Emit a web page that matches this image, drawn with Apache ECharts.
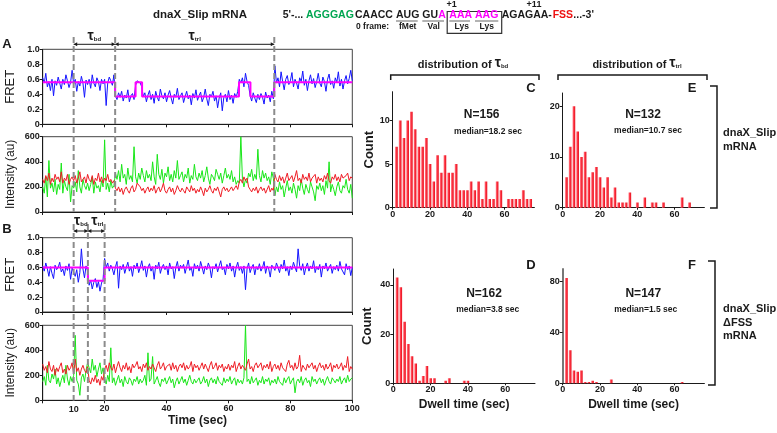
<!DOCTYPE html>
<html lang="en">
<head>
<meta charset="UTF-8">
<title>dnaX_Slip smFRET</title>
<script src="https://cdn.jsdelivr.net/npm/echarts@6/dist/echarts.min.js"></script>
<style>
  html, body { margin: 0; padding: 0; background: #fff; }
  #main { width: 777px; height: 433px; }
</style>
</head>
<body>
<div id="main"></div>
<script type="text/javascript">
// traces are sampled every 0.5 s, 0 .. 100 s
var frameTime = 0.5;

var fretA = [
  0.62,0.55,0.68,0.5,0.57,0.45,0.6,0.38,0.58,0.52,
  0.63,0.55,0.47,0.6,0.53,0.66,0.58,0.49,0.56,0.72,
  0.54,0.6,0.44,0.57,0.51,0.64,0.55,0.36,0.59,0.53,
  0.6,0.48,0.66,0.55,0.5,0.62,0.57,0.45,0.6,0.54,
  0.6,0.25,0.55,0.63,0.58,0.52,0.66,0.38,0.33,0.42,
  0.36,0.44,0.31,0.39,0.35,0.46,0.3,0.38,0.41,0.33,
  0.52,0.58,0.6,0.55,0.5,0.37,0.42,0.3,0.39,0.45,
  0.33,0.4,0.28,0.44,0.36,0.31,0.47,0.38,0.34,0.42,
  0.3,0.39,0.45,0.35,0.27,0.4,0.36,0.48,0.33,0.38,
  0.42,0.29,0.37,0.44,0.34,0.39,0.26,0.41,0.35,0.46,
  0.32,0.38,0.43,0.3,0.36,0.47,0.34,0.25,0.4,0.37,
  0.44,0.31,0.38,0.22,0.35,0.42,0.18,0.36,0.4,0.3,
  0.45,0.33,0.39,0.28,0.41,0.36,0.44,0.6,0.55,0.62,
  0.5,0.68,0.57,0.52,0.38,0.31,0.42,0.35,0.29,0.4,
  0.33,0.41,0.36,0.27,0.43,0.35,0.39,0.3,0.44,0.34,
  0.78,0.55,0.62,0.5,0.7,0.57,0.46,0.6,0.65,0.53,
  0.58,0.69,0.5,0.6,0.55,0.47,0.62,0.57,0.71,0.52,
  0.6,0.45,0.58,0.66,0.54,0.61,0.49,0.57,0.68,0.55,
  0.5,0.63,0.57,0.44,0.6,0.67,0.53,0.58,0.48,0.62,
  0.56,0.7,0.51,0.6,0.47,0.58,0.65,0.54,0.61,0.72,
  0.58
];
var greenA = [
  200,150,280,120,410,190,230,160,260,140,
  220,180,390,150,250,200,170,300,80,210,
  190,240,160,330,200,150,260,210,180,230,
  170,220,280,150,240,190,210,160,250,200,
  575,180,230,160,250,190,210,310,260,330,
  240,380,270,300,220,350,260,290,240,520,
  280,230,310,260,350,290,240,330,270,300,
  250,400,280,220,460,300,260,340,230,310,
  280,360,250,300,240,330,270,410,260,290,
  320,240,300,270,350,230,290,260,380,280,
  250,310,270,330,240,290,360,270,220,300,
  280,250,340,300,260,310,230,290,350,270,
  300,260,330,240,280,220,250,230,600,270,
  200,260,230,310,280,340,250,300,260,500,
  290,240,330,270,310,250,280,220,320,270,
  130,200,160,240,180,210,120,190,250,170,
  200,150,230,180,110,210,170,260,190,140,
  220,180,150,240,200,160,90,210,180,230,
  170,210,140,250,190,400,160,220,180,130,
  200,240,170,150,210,190,260,180,150,220,
  110
];
var redA = [
  260,230,290,250,310,220,270,240,300,260,
  280,240,320,230,270,250,300,220,260,280,
  250,290,230,270,320,240,260,280,230,300,
  260,240,290,220,270,250,310,240,280,230,
  270,250,300,240,260,230,250,190,170,200,
  160,190,140,180,200,170,150,190,210,160,
  180,230,220,200,170,190,150,180,200,160,
  190,170,210,150,180,200,160,190,230,170,
  150,180,200,160,190,140,170,210,180,160,
  190,170,150,200,180,160,210,170,190,150,
  180,160,200,170,130,190,160,180,210,170,
  150,190,170,200,160,120,180,200,170,190,
  160,180,200,170,190,210,180,240,260,230,
  280,250,270,200,180,160,190,170,200,150,
  180,200,170,190,150,180,210,160,190,170,
  300,260,240,290,250,280,230,270,310,250,
  260,290,240,280,330,250,270,230,300,260,
  280,250,310,240,270,260,300,230,280,250,
  270,240,290,260,310,250,230,280,260,300,
  250,280,240,300,270,260,290,310,250,280,
  270
];
var fretB = [
  0.62,0.55,0.66,0.58,0.48,0.61,0.52,0.45,0.63,0.57,
  0.6,0.67,0.54,0.58,0.49,0.62,0.56,0.65,0.44,0.59,
  0.61,0.48,0.57,0.4,0.53,0.85,0.58,0.46,0.62,0.55,
  0.36,0.43,0.31,0.4,0.45,0.33,0.41,0.28,0.39,0.44,
  0.72,0.6,0.66,0.55,0.63,0.58,0.5,0.61,0.68,0.32,
  0.62,0.57,0.64,0.52,0.6,0.67,0.55,0.61,0.48,0.63,
  0.58,0.66,0.53,0.6,0.69,0.56,0.62,0.47,0.6,0.65,
  0.55,0.61,0.44,0.63,0.58,0.67,0.52,0.6,0.64,0.57,
  0.62,0.5,0.66,0.58,0.61,0.45,0.6,0.68,0.55,0.63,
  0.59,0.64,0.52,0.61,0.7,0.56,0.6,0.48,0.65,0.58,
  0.63,0.55,0.68,0.6,0.51,0.62,0.57,0.66,0.6,0.46,
  0.61,0.58,0.65,0.54,0.62,0.69,0.57,0.6,0.5,0.64,
  0.58,0.66,0.55,0.62,0.47,0.6,0.67,0.56,0.61,0.52,
  0.62,0.3,0.58,0.66,0.53,0.6,0.64,0.5,0.61,0.57,
  0.65,0.55,0.6,0.68,0.52,0.62,0.58,0.47,0.63,0.6,
  0.56,0.66,0.6,0.53,0.64,0.58,0.7,0.55,0.61,0.49,
  0.62,0.57,0.67,0.6,0.54,0.85,0.62,0.56,0.65,0.5,
  0.6,0.66,0.55,0.62,0.58,0.69,0.53,0.61,0.57,0.64,
  0.47,0.62,0.58,0.66,0.55,0.6,0.64,0.52,0.61,0.57,
  0.63,0.55,0.68,0.58,0.6,0.5,0.65,0.57,0.62,0.49,
  0.6
];
var greenB = [
  150,190,120,280,160,140,210,170,250,130,
  180,110,160,200,140,280,170,120,190,150,
  200,520,160,130,40,180,210,150,240,300,
  260,220,330,240,280,190,250,300,210,260,
  170,130,200,150,420,140,180,120,160,200,
  140,170,110,190,150,130,180,160,120,170,
  150,190,130,170,140,160,200,120,380,150,
  170,350,130,160,190,140,110,170,150,180,
  130,160,190,140,170,100,150,180,130,160,
  190,140,170,120,160,200,150,130,170,140,
  160,180,130,150,190,140,170,110,160,180,
  140,170,130,190,150,160,120,180,140,170,
  150,190,130,160,180,120,170,140,160,130,
  180,600,150,170,130,190,140,160,180,120,
  160,140,190,130,170,150,180,120,160,140,
  170,130,190,150,160,120,180,140,170,190,
  130,160,180,60,150,170,140,190,120,160,
  180,140,160,110,190,150,170,130,160,180,
  140,170,120,160,190,150,130,180,160,140,
  170,150,190,130,160,180,140,200,150,170,
  180
];
var redB = [
  290,240,270,220,310,250,230,280,200,260,
  230,270,300,220,250,210,280,240,260,300,
  210,330,230,260,200,250,280,240,220,270,
  160,130,180,150,200,140,170,120,190,160,
  250,280,230,300,260,240,290,220,270,310,
  260,230,280,250,300,240,270,220,290,260,
  280,310,250,270,230,290,260,300,240,270,
  250,290,260,230,280,310,250,270,300,240,
  270,260,290,240,300,250,280,230,270,290,
  260,300,240,280,250,270,310,230,290,260,
  280,240,270,300,250,290,260,230,280,310,
  250,270,300,240,280,260,290,230,270,250,
  290,240,280,260,310,230,270,300,250,280,
  260,240,290,330,250,270,230,280,300,260,
  270,300,240,280,260,290,250,310,230,270,
  290,250,280,240,300,260,270,230,290,320,
  260,280,240,300,250,270,360,230,280,260,
  240,290,260,270,300,250,280,230,270,300,
  260,280,240,290,250,270,300,230,280,260,
  290,250,270,300,240,280,260,350,230,270,
  250
];

// idealized FRET states (level holds until the next time)
var stepTimesA = [0, 23.4, 30, 32.1, 63.4, 67.1, 74.8, 100];
var stepLevelsA = [0.56, 0.37, 0.56, 0.37, 0.56, 0.37, 0.56, 0.56];
var stepTimesB = [0, 14.6, 20, 100];
var stepLevelsB = [0.6, 0.42, 0.6, 0.6];
var eventsA = [10, 23.4, 74.8];
var eventsB = [10, 14.6, 20];

// dwell-time histograms (bin centre in sec, count)
var binsC = [2,4,6,8,10,12,14,16,18,20,22,24,26,28,30,32,34,36,38,40,42,44,46,48,50,52,54,56,58,60,62,64,66,68,70,72,74];
var countsC = [7,10,8,10,11,9,7,7,8,5,3,6,4,6,4,4,5,2,2,2,3,2,3,1,3,1,1,3,2,0,1,1,1,1,2,1,1];
var binsE = [2,4,6,8,10,12,14,16,18,20,22,24,26,28,30,32,34,36,40,44,48,50,54,64,68];
var countsE = [6,12,20,15,10,11,6,7,8,6,4,6,2,4,1,1,1,3,1,2,1,1,1,2,1];
var binsD = [2,4,6,8,10,12,14,16,18,20,22,28,30,38,40];
var countsD = [43,39,25,16,11,8,1,3,7,2,2,1,2,1,1];
var binsF = [2,4,6,8,10,12,14,16,18,26,64];
var countsF = [83,26,10,9,10,1,1,2,1,3,1];

var FONT = '"Liberation Sans", Arial, sans-serif';
function bold(size) { return 'bold ' + size + 'px ' + FONT; }
function asPoints(values) { return values.map(function (v, i) { return [i * frameTime, v]; }); }
function asPairs(xs, ys) { return xs.map(function (x, i) { return [x, ys[i]]; }); }

var chart = echarts.init(document.getElementById('main'));
var ink = '#1a1a1a';

var grids = [
  {left: 42.7, top: 49.3, width: 309.6, height: 75},
  {left: 42.7, top: 136.7, width: 309.6, height: 75.3},
  {left: 42.7, top: 237.7, width: 309.6, height: 74.3},
  {left: 42.7, top: 325.3, width: 309.6, height: 75},
  {left: 392.7, top: 91.7, width: 141.7, height: 116},
  {left: 562.7, top: 93, width: 141.7, height: 114.7},
  {left: 393.3, top: 269, width: 141.7, height: 114.3},
  {left: 562.7, top: 269, width: 141.7, height: 114.3}
];
grids.forEach(function (g, i) {
  g.outerBoundsMode = 'none';
  g.containLabel = false;
  if (i < 4) { g.show = true; g.borderColor = '#444'; g.borderWidth = 1; }
});

function timeAxis(gi, labels) {
  return {
    type: 'value', gridIndex: gi, min: 0, max: 100, interval: 20,
    axisLine: {show: true, onZero: false, lineStyle: {color: ink, width: 1}},
    axisTick: {show: true, length: 3, lineStyle: {color: ink}},
    splitLine: {show: false},
    axisLabel: {show: labels, color: ink, fontSize: 9, fontWeight: 'bold', fontFamily: FONT, margin: 4,
      formatter: function (v) { return v === 0 ? '' : String(v); }},
    name: labels ? 'Time (sec)' : '', nameLocation: 'middle', nameGap: 12,
    nameTextStyle: {fontSize: 12, fontWeight: 'bold', color: ink, fontFamily: FONT}
  };
}
function dwellAxis(gi, named) {
  return {
    type: 'value', gridIndex: gi, min: 0, max: 76, interval: 20,
    axisLine: {show: true, onZero: false, lineStyle: {color: ink, width: 1}},
    axisTick: {show: true, length: 2, lineStyle: {color: ink}},
    splitLine: {show: false},
    axisLabel: {color: ink, fontSize: 9, fontWeight: 'bold', fontFamily: FONT, margin: 2, showMaxLabel: false},
    name: named ? 'Dwell time (sec)' : '', nameLocation: 'middle', nameGap: 15,
    nameTextStyle: {fontSize: 12, fontWeight: 'bold', color: ink, fontFamily: FONT}
  };
}
function yAxis(gi, max, interval, showMax, name, nameGap, nameSize, nameWeight, fmt, axisColor) {
  return {
    type: 'value', gridIndex: gi, min: 0, max: max, interval: interval,
    axisLine: {show: true, onZero: false, lineStyle: {color: axisColor || ink, width: axisColor ? 2 : 1}},
    axisTick: {show: true, length: 3, lineStyle: {color: ink}},
    splitLine: {show: false},
    axisLabel: {color: ink, fontSize: 9, fontWeight: 'bold', fontFamily: FONT, margin: 3,
      showMinLabel: true, showMaxLabel: showMax, formatter: fmt},
    name: name, nameLocation: 'middle', nameGap: nameGap,
    nameTextStyle: {fontSize: nameSize, fontWeight: nameWeight, color: ink, fontFamily: FONT}
  };
}
var fretFmt = function (v) { return v === 0 ? '0' : v.toFixed(1); };

var barFill = {type: 'linear', x: 0, y: 0, x2: 1, y2: 0, colorStops: [
  {offset: 0, color: '#ff8a92'}, {offset: 0.45, color: '#ff3343'}, {offset: 1, color: '#e3101c'}]};

function lineSeries(xi, data, color, width, step) {
  return {type: 'line', xAxisIndex: xi, yAxisIndex: xi, data: data, showSymbol: false, symbol: 'none',
    step: step || false, lineStyle: {color: color, width: width}, silent: true, clip: true, z: step ? 3 : 2};
}
function barSeries(xi, data) {
  return {type: 'bar', xAxisIndex: xi, yAxisIndex: xi, data: data, barWidth: 2.7,
    itemStyle: {color: barFill}, silent: true};
}

chart.setOption({
  animation: false,
  backgroundColor: '#fff',
  grid: grids,
  xAxis: [timeAxis(0, false), timeAxis(1, false), timeAxis(2, false), timeAxis(3, true),
          dwellAxis(4, false), dwellAxis(5, false), dwellAxis(6, true), dwellAxis(7, true)],
  yAxis: [
    yAxis(0, 1, 0.2, true, 'FRET', 26, 13, 'normal', fretFmt),
    yAxis(1, 600, 200, true, 'Intensity (au)', 26, 12, 'normal'),
    yAxis(2, 1, 0.2, true, 'FRET', 26, 13, 'normal', fretFmt),
    yAxis(3, 600, 200, true, 'Intensity (au)', 26, 12, 'normal'),
    yAxis(4, 13.3, 5, false, 'Count', 15, 13, 'bold'),
    yAxis(5, 22.6, 10, false, '', 10, 13, 'bold'),
    yAxis(6, 46.4, 20, false, 'Count', 19, 13, 'bold'),
    yAxis(7, 90, 40, false, '', 10, 13, 'bold', null, '#777')
  ],
  series: [
    lineSeries(0, asPoints(fretA), '#1414ff', 1),
    lineSeries(0, asPairs(stepTimesA, stepLevelsA), '#ff00ff', 2, 'end'),
    lineSeries(1, asPoints(greenA), '#19e619', 1),
    lineSeries(1, asPoints(redA), '#ee1c24', 1),
    lineSeries(2, asPoints(fretB), '#1414ff', 1),
    lineSeries(2, asPairs(stepTimesB, stepLevelsB), '#ff00ff', 2, 'end'),
    lineSeries(3, asPoints(greenB), '#19e619', 1),
    lineSeries(3, asPoints(redB), '#ee1c24', 1),
    barSeries(4, asPairs(binsC, countsC)),
    barSeries(5, asPairs(binsE, countsE)),
    barSeries(6, asPairs(binsD, countsD)),
    barSeries(7, asPairs(binsF, countsF))
  ]
});

// ---- annotations ----
var g = [];
function text(str, x, y, font, color, align) {
  g.push({type: 'text', z: 50, silent: true, style: {text: str, x: x, y: y, font: font, fill: color || ink,
    textAlign: align || 'center', align: align || 'center', textVerticalAlign: 'middle', verticalAlign: 'middle'}});
}
function tauText(sub, x, y, prefix) {
  g.push({type: 'text', z: 50, silent: true, style: {
    text: (prefix ? '{a|' + prefix + '}' : '') + '{t|τ}{s|' + sub + '}', x: x, y: y,
    textAlign: 'center', align: 'center', textVerticalAlign: 'middle', verticalAlign: 'middle',
    rich: {
      a: {font: bold(11), fill: ink, color: ink, verticalAlign: 'bottom'},
      t: {font: bold(14), fill: ink, color: ink, verticalAlign: 'bottom'},
      s: {font: bold(6), fill: ink, color: ink, verticalAlign: 'bottom', padding: [0, 0, 1, 0]}
    }}});
}
function seg(x1, y1, x2, y2, color, width, dash) {
  g.push({type: 'line', z: 40, silent: true, shape: {x1: x1, y1: y1, x2: x2, y2: y2},
    style: {stroke: color, lineWidth: width, lineDash: dash || null}});
}
function poly(points, color, width) {
  g.push({type: 'polyline', z: 40, silent: true, shape: {points: points}, style: {stroke: color, lineWidth: width, fill: null}});
}
function arrow(x1, x2, y) {
  seg(x1, y, x2, y, ink, 1);
  g.push({type: 'polygon', z: 41, silent: true, shape: {points: [[x1, y], [x1 + 3.5, y - 2], [x1 + 3.5, y + 2]]}, style: {fill: ink}});
  g.push({type: 'polygon', z: 41, silent: true, shape: {points: [[x2, y], [x2 - 3.5, y - 2], [x2 - 3.5, y + 2]]}, style: {fill: ink}});
}
function px(t) { return chart.convertToPixel({xAxisIndex: 0}, t); }

// event markers
eventsA.forEach(function (t) { seg(px(t), 37, px(t), 212, '#8c8c8c', 2, [6, 3]); });
eventsB.forEach(function (t) { seg(px(t), 224, px(t), 400.5, '#8c8c8c', 2, [6, 3]); });
arrow(px(eventsA[0]), px(eventsA[1]), 44.3);
arrow(px(eventsA[1]), px(eventsA[2]), 44.3);
tauText('bd', (px(eventsA[0]) + px(eventsA[1])) / 2, 36);
tauText('trl', (px(eventsA[1]) + px(eventsA[2])) / 2, 36);
arrow(px(eventsB[0]), px(eventsB[1]), 231);
arrow(px(eventsB[1]), px(eventsB[2]), 231);
tauText('bd', (px(eventsB[0]) + px(eventsB[1])) / 2, 221);
tauText('trl', (px(eventsB[1]) + px(eventsB[2])) / 2 + 1, 221);
text('10', px(10), 409.3, bold(9));

// header: mRNA sequence
text('dnaX_Slip mRNA', 200, 14.5, bold(11.5));
var seqParts = [["5'-...", 282.7, ink], ['AGGGAG', 306, '#00a651'], ['CAACC', 355, ink], ['AUG', 396, ink],
  ['GU', 422.3, ink], ['A', 438.3, '#ff00ff'], ['AAA', 449.3, '#ff00ff'], ['AAG', 475, '#ff00ff'],
  ['AGAGAA-', 501.7, ink], ['FSS', 552.7, '#ee1111'], ["...-3'", 573.3, ink]];
seqParts.forEach(function (p) { text(p[0], p[1], 15.5, bold(10.5), p[2], 'left'); });
[[396, 417.7], [422.3, 444], [449.3, 470], [475, 498.3]].forEach(function (u) { seg(u[0], 21, u[1], 21, '#808080', 1.2); });
g.push({type: 'rect', z: 40, silent: true, shape: {x: 447.2, y: 11.5, width: 54.5, height: 21.8}, style: {stroke: '#333', lineWidth: 1.2, fill: null}});
text('+1', 451.7, 4.5, bold(9));
text('+11', 534, 4.5, bold(9));
text('0 frame:', 356, 26.5, bold(8.5), ink, 'left');
text('fMet', 407.7, 26.5, bold(8.5));
text('Val', 433.7, 26.5, bold(8.5));
text('Lys', 461.7, 26.5, bold(8.5));
text('Lys', 486.7, 26.5, bold(8.5));

// panel letters
text('A', 7, 44, bold(13));
text('B', 7, 229, bold(13));
text('C', 531, 88, bold(13));
text('E', 692, 88, bold(13));
text('D', 531, 265, bold(13));
text('F', 692, 265, bold(13));

// histogram headers and brackets
tauText('bd', 463, 63, 'distribution of ');
tauText('trl', 637, 63, 'distribution of ');
poly([[390.7, 80], [390.7, 75], [539, 75], [539, 80]], ink, 1.5);
poly([[558, 80], [558, 75], [707, 75], [707, 80]], ink, 1.5);
poly([[710, 86], [717, 86], [717, 208], [710, 208]], ink, 1.5);
poly([[708, 261], [715, 261], [715, 385], [708, 385]], ink, 1.5);
text('dnaX_Slip', 723, 133.3, bold(11), ink, 'left');
text('mRNA', 723, 146.5, bold(11), ink, 'left');
text('dnaX_Slip', 723, 309, bold(11), ink, 'left');
text('\u0394FSS', 723, 322.7, bold(11), ink, 'left');
text('mRNA', 723, 336, bold(11), ink, 'left');

// statistics
text('N=156', 481.7, 115, bold(12));
text('median=18.2 sec', 488, 131.5, bold(8.5));
text('N=132', 643, 115, bold(12));
text('median=10.7 sec', 648, 131, bold(8.5));
text('N=162', 484, 293.3, bold(12));
text('median=3.8 sec', 487.7, 309.3, bold(8.5));
text('N=147', 643.3, 293.3, bold(12));
text('median=1.5 sec', 645.7, 309.3, bold(8.5));

chart.setOption({graphic: {elements: g}});
</script>
</body>
</html>
